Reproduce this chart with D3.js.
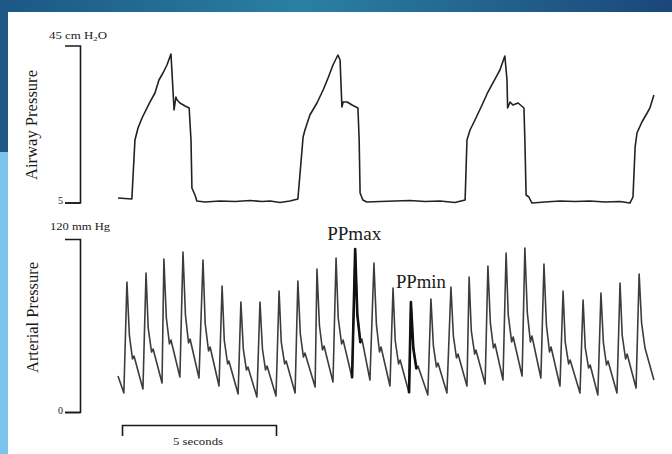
<!DOCTYPE html>
<html>
<head>
<meta charset="utf-8">
<script src="https://cdn.jsdelivr.net/npm/d3@7"></script>
<style>
  body { margin: 0; background: #fff; }
  svg { display: block; }
  .Label { font-family: "Liberation Serif", "DejaVu Serif", serif; fill: #1a1a1a; }
</style>
</head>
<body>
<div id="chart"></div>
<script>
// ------ Data ---------------//
// airway pressure trace, [seconds, cm H2O]
var airwayTrace = [
  [0.00,6.15],[0.45,5.89],[0.55,20.92],[0.65,23.98],[0.78,26.53],[1.04,30.61],[1.20,32.90],[1.33,36.21],
  [1.46,37.99],[1.59,40.03],[1.72,42.83],[1.82,28.57],[1.88,31.88],[1.92,31.11],[2.01,30.35],[2.18,29.59],
  [2.31,29.08],[2.37,20.92],[2.40,8.69],[2.50,6.91],[2.56,5.38],[2.82,5.13],[3.31,5.38],[3.80,5.25],
  [4.29,5.51],[4.68,5.25],[4.94,5.38],[5.26,5.00],[5.58,5.38],[5.84,5.89],
  [6.01,21.69],[6.07,23.47],[6.23,27.29],[6.46,30.35],[6.66,33.66],[6.82,36.72],[6.98,40.03],[7.14,42.58],
  [7.21,41.31],[7.27,29.33],[7.31,30.61],[7.44,30.61],[7.60,29.84],[7.79,29.08],[7.83,20.92],[7.86,7.42],
  [7.95,5.64],[8.08,5.13],[8.51,5.25],[8.99,5.38],[9.48,5.51],[9.97,5.25],[10.45,5.38],[10.94,5.00],[11.27,5.64],
  [11.33,20.92],[11.43,23.47],[11.59,26.02],[11.82,29.84],[12.01,33.15],[12.31,37.48],[12.40,38.76],[12.56,42.32],
  [12.63,36.21],[12.65,29.08],[12.73,30.61],[12.82,29.84],[12.99,30.35],[13.18,29.08],[13.21,20.92],[13.25,6.91],
  [13.34,6.40],[13.44,4.87],[13.86,5.13],[14.35,5.38],[14.84,5.25],[15.32,5.38],[15.81,5.13],[16.30,5.25],
  [16.62,4.87],[16.72,6.40],[16.79,19.14],[16.85,22.71],[17.01,25.51],[17.18,27.80],[17.27,29.08],[17.40,32.39]
];

// arterial pressure trace, [seconds, mm Hg]
var arterialTrace = [
  [0.00,25.0],[0.19,13.2],[0.29,90.2],[0.37,53.1],[0.47,36.8],[0.52,38.8],
  [0.81,16.0],[0.91,96.4],[0.98,58.3],[1.09,41.6],[1.14,43.7],
  [1.43,20.1],[1.49,106.1],[1.57,65.2],[1.67,47.2],[1.72,49.9],
  [2.01,24.3],[2.11,111.0],[2.19,67.3],[2.29,47.9],[2.34,50.6],
  [2.63,23.6],[2.76,105.4],[2.83,61.7],[2.94,42.3],[2.99,45.1],
  [3.28,18.0],[3.38,87.4],[3.45,49.9],[3.56,33.3],[3.60,35.4],
  [3.90,12.5],[3.99,76.3],[4.07,43.4],[4.17,29.1],[4.22,31.2],
  [4.51,10.4],[4.61,76.3],[4.69,43.7],[4.79,29.1],[4.84,31.9],
  [5.13,11.1],[5.23,83.9],[5.30,48.6],[5.41,33.3],[5.46,35.4],
  [5.75,13.2],[5.84,90.9],[5.92,54.1],[6.02,38.1],[6.07,40.9],
  [6.40,17.3],[6.46,99.2],[6.54,60.0],[6.64,43.0],[6.69,45.8],
  [6.98,20.8],[7.08,106.8],[7.15,65.2],[7.26,47.2],[7.31,49.9],
  [7.60,23.6],[7.70,113.1],[7.77,67.6],[7.87,47.9],[7.92,50.6],
  [8.18,22.2],[8.31,103.3],[8.39,60.7],[8.49,41.6],[8.54,45.1],
  [8.83,18.0],[8.93,86.0],[9.00,49.6],[9.11,33.3],[9.16,36.1],
  [9.45,13.2],[9.51,76.3],[9.59,44.0],[9.69,29.8],[9.74,31.9],
  [10.06,11.8],[10.16,78.4],[10.24,45.8],[10.34,31.2],[10.39,34.0],
  [10.68,13.2],[10.81,86.7],[10.89,52.4],[10.99,37.5],[11.04,40.2],
  [11.33,18.0],[11.40,93.6],[11.47,56.5],[11.58,40.2],[11.62,43.0],
  [11.92,19.4],[12.01,101.3],[12.09,61.7],[12.19,44.4],[12.24,47.2],
  [12.50,22.2],[12.60,110.3],[12.67,67.6],[12.78,48.6],[12.83,52.0],
  [13.12,25.0],[13.21,113.8],[13.29,68.7],[13.39,48.6],[13.44,52.7],
  [13.73,23.6],[13.83,102.7],[13.91,60.3],[14.01,41.6],[14.06,45.1],
  [14.35,18.0],[14.45,83.9],[14.52,48.6],[14.63,33.3],[14.68,36.1],
  [15.00,13.2],[15.10,77.7],[15.17,44.7],[15.28,30.5],[15.33,32.6],
  [15.58,11.8],[15.68,82.5],[15.76,47.9],[15.86,32.6],[15.91,35.4],
  [16.20,13.2],[16.30,89.5],[16.37,53.1],[16.48,36.8],[16.53,40.2],
  [16.82,16.6],[16.92,95.7],[17.00,61.7],[17.11,44.4],[17.40,22.2]
];

// highlighted beats (time window in seconds) and their labels
var beatLabels = ["PPmax", "PPmin"];
var beatWindows = [[7.58, 7.88], [9.43, 9.70]];

// axis ticks and labels
var airwayTicks = [5, 45];
var arterialTicks = [0, 120];
var airwayUnit = "45 cm H";
var arterialUnit = "120 mm Hg";
var scaleBar = [0.13, 5.13];   // seconds
var scaleBarLabel = "5 seconds";

// ------ SVG and background ---------------//
{
var width = 672, height = 454;

var svg = d3.select("#chart").append("svg")
  .attr("width", width)
  .attr("height", height);

var defs = svg.append("defs");
var topGrad = defs.append("linearGradient").attr("id", "topGrad");
topGrad.append("stop").attr("offset", "0%").attr("stop-color", "#1c5785");
topGrad.append("stop").attr("offset", "45%").attr("stop-color", "#2a80a2");
topGrad.append("stop").attr("offset", "100%").attr("stop-color", "#1b467a");

svg.append("rect").attr("width", width).attr("height", height).attr("fill", "#fff");
svg.append("rect").attr("width", width).attr("height", 12).attr("fill", "url(#topGrad)");
svg.append("rect").attr("y", 0).attr("width", 8).attr("height", 152).attr("fill", "#1d5986");
svg.append("rect").attr("y", 152).attr("width", 8).attr("height", height - 152).attr("fill", "#7cc3ee");
}

// ------ Scales ---------------//
{
var x = d3.scaleLinear().domain([0, 17.5]).range([118, 118 + 17.5 * 30.8]);
var yAir = d3.scaleLinear().domain([5, 45]).range([202.5, 45.5]);
var yArt = d3.scaleLinear().domain([0, 120]).range([412, 239]);
var axisX = 80;
}

// ------ Axes (brackets) ---------------//
{
var airAxis = svg.append("g")
  .attr("transform", `translate(${axisX},0)`)
  .call(d3.axisLeft(yAir).tickValues([airwayTicks[0]]).tickSize(15).tickSizeOuter(15));

var artAxis = svg.append("g")
  .attr("transform", `translate(${axisX},0)`)
  .call(d3.axisLeft(yArt).tickValues([arterialTicks[0]]).tickSize(15).tickSizeOuter(15));

[airAxis, artAxis].forEach(function(g) {
  g.select(".domain").attr("stroke", "#1a1a1a").attr("stroke-width", 1.6);
  g.selectAll(".tick line").attr("stroke", "#1a1a1a").attr("stroke-width", 1.6);
  g.selectAll(".tick text")
    .attr("class", "Label")
    .attr("font-size", 10)
    .attr("x", -17)
    .attr("dy", "0.1em");
});

// unit labels above the brackets
var airUnitText = svg.append("text").attr("class", "Label")
  .attr("x", 78).attr("y", yAir(airwayTicks[1]) - 7)
  .attr("text-anchor", "middle").attr("font-size", 10.5)
  .attr("textLength", 58).attr("lengthAdjust", "spacingAndGlyphs");
airUnitText.append("tspan").text(airwayUnit);
airUnitText.append("tspan").attr("font-size", 7).attr("dy", 2).text("2");
airUnitText.append("tspan").attr("dy", -2).text("O");

svg.append("text").attr("class", "Label")
  .attr("x", 80).attr("y", yArt(arterialTicks[1]) - 9)
  .attr("text-anchor", "middle").attr("font-size", 10.5)
  .attr("textLength", 60).attr("lengthAdjust", "spacingAndGlyphs")
  .text(arterialUnit);

// rotated axis titles
svg.append("text").attr("class", "Label")
  .attr("transform", `translate(37,${(yAir(5) + yAir(45)) / 2 + 1}) rotate(-90)`)
  .attr("text-anchor", "middle").attr("font-size", 16)
  .attr("textLength", 110).attr("lengthAdjust", "spacingAndGlyphs")
  .text("Airway Pressure");

svg.append("text").attr("class", "Label")
  .attr("transform", `translate(38,${(yArt(0) + yArt(120)) / 2 - 8}) rotate(-90)`)
  .attr("text-anchor", "middle").attr("font-size", 16)
  .attr("textLength", 111).attr("lengthAdjust", "spacingAndGlyphs")
  .text("Arterial Pressure");
}

// ------ Traces ---------------//
{
var airLine = d3.line().x(d => x(d[0])).y(d => yAir(d[1]));
var artLine = d3.line().x(d => x(d[0])).y(d => yArt(d[1]));

svg.append("path")
  .datum(airwayTrace)
  .attr("d", airLine)
  .attr("fill", "none")
  .attr("stroke", "#222")
  .attr("stroke-width", 1.6)
  .attr("stroke-linejoin", "round");

svg.append("path")
  .datum(arterialTrace)
  .attr("d", artLine)
  .attr("fill", "none")
  .attr("stroke", "#3c3c3c")
  .attr("stroke-width", 1.6)
  .attr("stroke-linejoin", "round");

// bold beats
beatWindows.forEach(function(w, i) {
  var beat = arterialTrace.filter(d => d[0] >= w[0] && d[0] <= w[1]);
  svg.append("path")
    .datum(beat)
    .attr("d", artLine)
    .attr("fill", "none")
    .attr("stroke", "#111")
    .attr("stroke-width", 2.6)
    .attr("stroke-linejoin", "round");

  var peak = d3.max(beat, d => d[1]);
  var peakT = beat.find(d => d[1] === peak)[0];
  svg.append("text").attr("class", "Label")
    .attr("x", x(peakT) + (i === 0 ? -1 : 10))
    .attr("y", yArt(peak) - (i === 0 ? 9 : 14))
    .attr("text-anchor", "middle").attr("font-size", 18)
    .attr("textLength", i === 0 ? 54 : 50).attr("lengthAdjust", "spacingAndGlyphs")
    .text(beatLabels[i]);
});
}

// ------ Scale bar ---------------//
{
var barScale = d3.scaleLinear().domain(scaleBar).range([x(scaleBar[0]), x(scaleBar[1])]);

var bar = svg.append("g")
  .attr("transform", `translate(0,425)`)
  .call(d3.axisBottom(barScale).tickValues([]).tickSizeOuter(11));

bar.select(".domain").attr("stroke", "#1a1a1a").attr("stroke-width", 1.6);

svg.append("text").attr("class", "Label")
  .attr("x", (x(scaleBar[0]) + x(scaleBar[1])) / 2 - 1)
  .attr("y", 445)
  .attr("text-anchor", "middle").attr("font-size", 10.5)
  .attr("textLength", 50).attr("lengthAdjust", "spacingAndGlyphs")
  .text(scaleBarLabel);
}
</script>
</body>
</html>
